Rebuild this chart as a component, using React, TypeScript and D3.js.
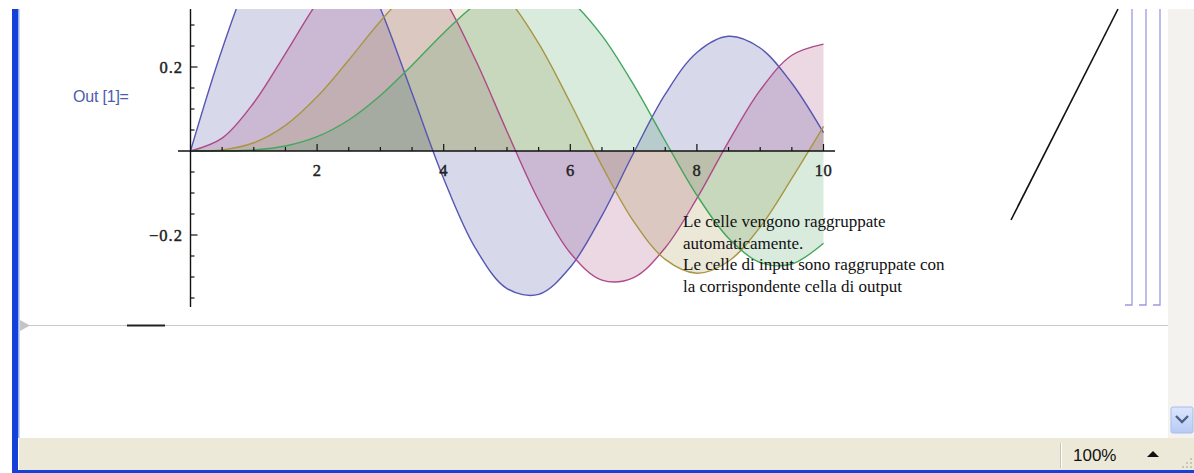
import React from "react";
import * as d3 from "d3";

// Sample points (x from 0 to 10, step 0.5)
const xValues = [0, 0.5, 1, 1.5, 2, 2.5, 3, 3.5, 4, 4.5, 5, 5.5, 6, 6.5, 7, 7.5, 8, 8.5, 9, 9.5, 10];
const seriesBlue = [0, 0.2423, 0.4401, 0.5579, 0.5767, 0.4971, 0.3391, 0.1374, -0.066, -0.2311, -0.3276, -0.3414, -0.2767, -0.1538, -0.0047, 0.1352, 0.2346, 0.2731, 0.2453, 0.1613, 0.0435];
const seriesRed = [0, 0.0306, 0.1149, 0.2321, 0.3528, 0.4461, 0.4861, 0.4586, 0.3641, 0.2178, 0.0466, -0.1173, -0.2429, -0.3074, -0.3014, -0.2303, -0.113, 0.0223, 0.1448, 0.2279, 0.2546];
const seriesYellow = [0, 0.0026, 0.0196, 0.061, 0.1289, 0.2166, 0.3091, 0.3868, 0.4302, 0.4247, 0.3648, 0.2561, 0.1148, -0.0353, -0.1676, -0.2581, -0.2911, -0.2626, -0.1809, -0.0653, 0.0584];
const seriesGreen = [0, 0.0002, 0.0025, 0.0118, 0.034, 0.0738, 0.132, 0.2044, 0.2811, 0.3484, 0.3912, 0.3967, 0.3576, 0.2748, 0.1578, 0.0238, -0.1054, -0.2077, -0.2655, -0.2691, -0.2196];

const xMajorTicks = [2, 4, 6, 8, 10];
const xTickLabels = ["2", "4", "6", "8", "10"];
const yMajorTicks = [0.2, -0.2];
const yTickLabels = ["0.2", "\u22120.2"];

const noteLines = [
  "Le celle vengono raggruppate",
  "automaticamente.",
  "Le celle di input sono raggruppate con",
  "la corrispondente cella di output",
];

const series = [
  { values: seriesBlue, stroke: "#5656b4", fill: "#3d3d99" },
  { values: seriesRed, stroke: "#ae4a88", fill: "#993d71" },
  { values: seriesYellow, stroke: "#a89644", fill: "#998b3d" },
  { values: seriesGreen, stroke: "#44a65e", fill: "#3d9956" },
];

export default function App() {
  const W = 1194;
  const H = 473;
  const x = d3.scaleLinear().domain([0, 10]).range([190.5, 823.5]);
  const y = d3.scaleLinear().domain([0, 0.2]).range([151, 67]);

  const xMinor = d3.range(0.5, 10.01, 0.5);
  const yMinor = d3.range(-0.35, 0.351, 0.05).filter((v) => Math.abs(v) > 1e-6);

  const area = d3
    .area<number>()
    .x((_, i) => x(xValues[i]))
    .y0(y(0))
    .y1((d) => y(d))
    .curve(d3.curveCatmullRom);
  const line = d3
    .line<number>()
    .x((_, i) => x(xValues[i]))
    .y((d) => y(d))
    .curve(d3.curveCatmullRom);

  const serif = "'Liberation Serif', 'Times New Roman', serif";
  const sans = "'Liberation Sans', Arial, sans-serif";

  return (
    <svg
      width={W}
      height={H}
      style={{ position: "absolute", left: 0, top: 0, display: "block", background: "#fff" }}
    >
      <defs>
        <clipPath id="plotClip">
          <rect x={150} y={9} width={700} height={300} />
        </clipPath>
        <linearGradient id="btnGrad" x1="0" y1="0" x2="0" y2="1">
          <stop offset="0" stopColor="#dce6fd" />
          <stop offset="1" stopColor="#b7caf5" />
        </linearGradient>
      </defs>

      {/* window chrome */}
      <rect x={0} y={0} width={W} height={H} fill="#ffffff" />
      <rect x={1168} y={9} width={26} height={429} fill="#f3f2ee" />
      <rect x={1171} y={407} width={22} height={26} rx={2} fill="url(#btnGrad)" stroke="#a9bde8" />
      <path d="M1176,416 L1182,422 L1188,416" fill="none" stroke="#4d6185" strokeWidth={2.4} />

      {/* status bar */}
      <rect x={19} y={438} width={W - 19} height={32} fill="#ece9d8" />
      <line x1={1060.5} y1={443} x2={1060.5} y2={468} stroke="#c8c5b4" strokeWidth={1} />
      <line x1={1061.5} y1={443} x2={1061.5} y2={468} stroke="#ffffff" strokeWidth={1} />
      <text x={1073} y={461} fontFamily={sans} fontSize={17} fill="#111">100%</text>
      <path d="M1147,457 L1153,451 L1159,457 Z" fill="#111" />
      {[[1190, 458], [1186, 462], [1190, 462], [1182, 466], [1186, 466], [1190, 466]].map((p, i) => (
        <rect key={i} x={p[0]} y={p[1]} width={2} height={2} fill="#c8c5b4" />
      ))}
      <rect x={12} y={470} width={W - 12} height={3} fill="#1541d8" />
      <rect x={12} y={9} width={6} height={464} fill="#1541d8" />
      <rect x={18} y={9} width={1.5} height={429} fill="#8fb0f2" />

      {/* cell separator */}
      <line x1={20} y1={325.5} x2={1168} y2={325.5} stroke="#c8c8c8" strokeWidth={1.2} />
      <path d="M20,320 L30,325.5 L20,331 Z" fill="#c4c4c4" />
      <line x1={127} y1={325.5} x2={165} y2={325.5} stroke="#222" strokeWidth={2} />

      {/* cell brackets */}
      {[1132, 1146, 1160].map((bx, i) => (
        <path
          key={i}
          d={`M${bx},9 L${bx},305 L${bx - 7},305`}
          fill="none"
          stroke="#9a9ae0"
          strokeWidth={1.3}
        />
      ))}

      {/* diagonal line */}
      <line x1={1011} y1={220} x2={1118} y2={9} stroke="#111" strokeWidth={1.6} />

      {/* Out label */}
      <text x={73} y={102} fontFamily={sans} fontSize={16} fill="#4a5cb0" letterSpacing={-0.2}>
        Out [1]=
      </text>

      {/* plot */}
      <g clipPath="url(#plotClip)">
        {series.map((s, i) => (
          <path key={"a" + i} d={area(s.values) || ""} fill={s.fill} fillOpacity={0.2} />
        ))}
        {series.map((s, i) => (
          <path key={"l" + i} d={line(s.values) || ""} fill="none" stroke={s.stroke} strokeWidth={1.4} />
        ))}
      </g>

      {/* axes */}
      <line x1={178} y1={y(0)} x2={835} y2={y(0)} stroke="#111" strokeWidth={1.4} />
      <line x1={x(0)} y1={9} x2={x(0)} y2={307} stroke="#111" strokeWidth={1.4} />
      {xMinor.map((v) => {
        const major = xMajorTicks.some((m) => Math.abs(m - v) < 1e-6);
        return (
          <line
            key={"xt" + v}
            x1={x(v)}
            x2={x(v)}
            y1={y(0)}
            y2={y(0) - (major ? 7 : 4)}
            stroke="#111"
            strokeWidth={1.2}
          />
        );
      })}
      {yMinor.map((v) => {
        const major = yMajorTicks.some((m) => Math.abs(m - v) < 1e-6);
        const yy = y(v);
        if (yy < 9) return null;
        return (
          <line
            key={"yt" + v.toFixed(2)}
            x1={x(0)}
            x2={x(0) + (major ? 7 : 4)}
            y1={yy}
            y2={yy}
            stroke="#111"
            strokeWidth={1.2}
          />
        );
      })}
      {xMajorTicks.map((v, i) => (
        <text
          key={"xl" + v}
          x={x(v)}
          y={176}
          textAnchor="middle"
          fontFamily={serif}
          fontSize={16.5}
          fill="#222"
          stroke="#222"
          strokeWidth={0.45}
          letterSpacing={0.5}
        >
          {xTickLabels[i]}
        </text>
      ))}
      {yMajorTicks.map((v, i) => (
        <text
          key={"yl" + v}
          x={183}
          y={y(v) + 5.5}
          textAnchor="end"
          fontFamily={serif}
          fontSize={16.5}
          fill="#222"
          stroke="#222"
          strokeWidth={0.45}
          letterSpacing={1}
        >
          {yTickLabels[i]}
        </text>
      ))}

      {/* note text */}
      {noteLines.map((t, i) => (
        <text key={"n" + i} x={683} y={227 + i * 21.5} fontFamily={serif} fontSize={17} fill="#111">
          {t}
        </text>
      ))}
    </svg>
  );
}
